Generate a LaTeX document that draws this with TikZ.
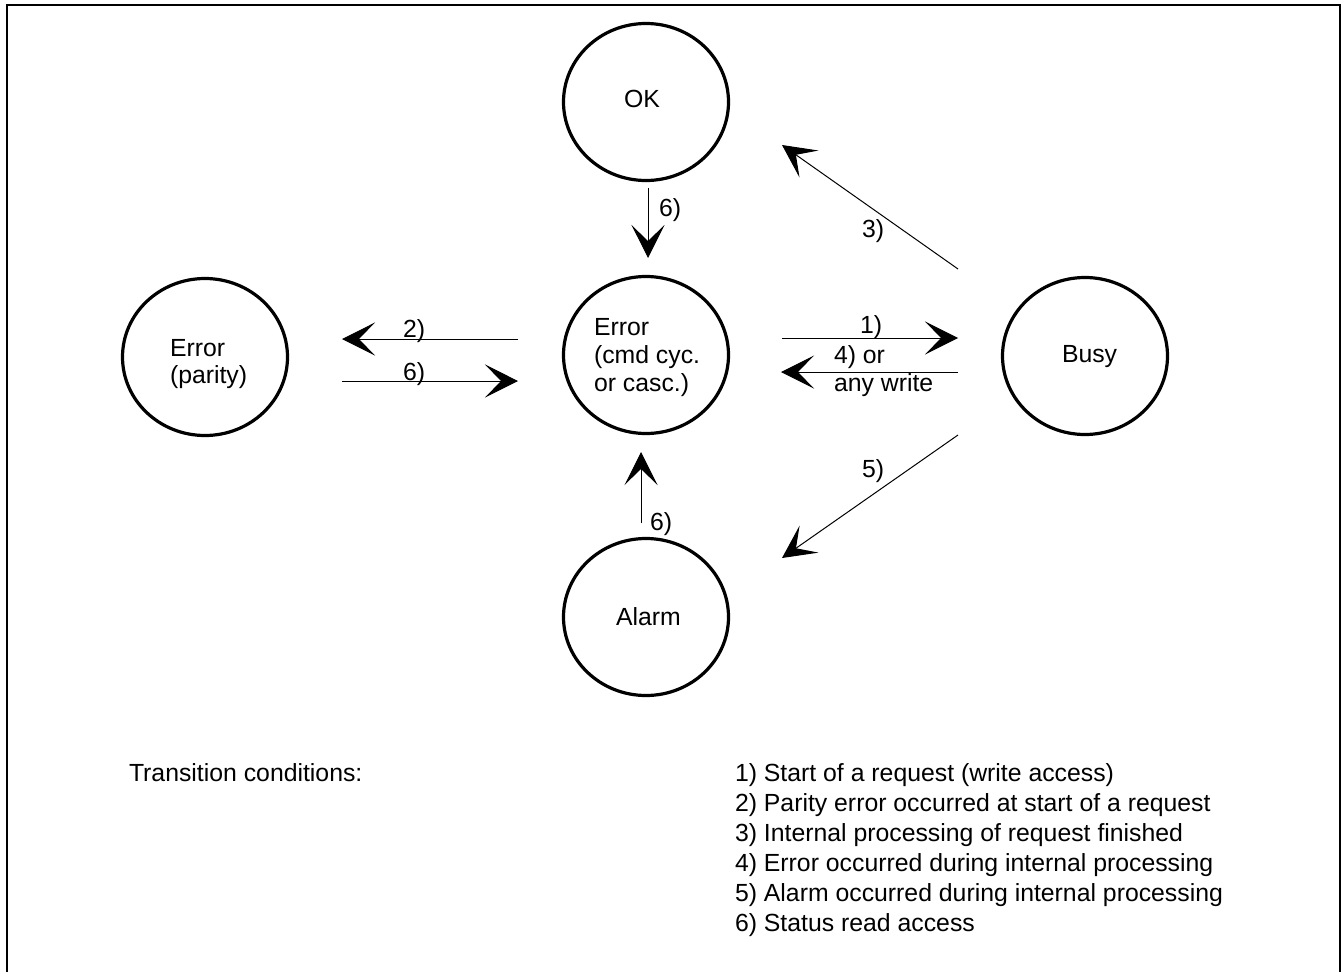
\documentclass[tikz,border=0pt]{standalone}
\usepackage{fontspec}
\setmainfont{Liberation Sans}
\usetikzlibrary{arrows.meta,shapes.geometric}
\begin{document}
\begin{tikzpicture}[x=1pt,y=-1pt,
  every node/.style={font=\fontsize{24.8}{30}\selectfont, inner sep=0pt, outer sep=0pt},
  state/.style={ellipse, draw, line width=3.2pt, minimum width=165pt, minimum height=157pt},
  txt/.style={anchor=base west},
  arr/.style={line width=1pt, -{Stealth[length=33pt,width=33pt,inset=16pt]}},
  frameline/.style={line width=2pt}]
\useasboundingbox (0,0) rectangle (1344,972);
% frame (open at bottom)
\coordinate (fbl) at (7,972);
\coordinate (ftl) at (7,5);
\coordinate (ftr) at (1339.5,5);
\coordinate (fbr) at (1339.5,972);
\draw[frameline] (fbl) -- (ftl) -- (ftr) -- (fbr);

% states
\node[state] (ok) at (646,102) {};
\node[state] (err) at (646,355) {};
\node[state] (par) at (205,357) {};
\node[state] (busy) at (1085,356) {};
\node[state] (alarm) at (646,617) {};

% state texts
\node[txt] (tok) at (624,107) {OK};
\node[txt] (terr1) at (594,335) {Error};
\node[txt] (terr2) at (594,363) {(cmd cyc.};
\node[txt] (terr3) at (594,391) {or casc.)};
\node[txt] (tpar1) at (170,356) {Error};
\node[txt] (tpar2) at (170,383) {(parity)};
\node[txt] (tbusy) at (1062,362) {Busy};
\node[txt] (talarm) at (616,625) {Alarm};

% connector end points
\coordinate (a6s) at (648,188);
\coordinate (a6e) at (648,258);
\coordinate (a3s) at (958,269);
\coordinate (a3e) at (782,145);
\coordinate (a2s) at (518,339);
\coordinate (a2e) at (342,339);
\coordinate (b6s) at (342,381);
\coordinate (b6e) at (518,381);
\coordinate (a1s) at (782,338);
\coordinate (a1e) at (958,338);
\coordinate (a4s) at (958,372);
\coordinate (a4e) at (781,372);
\coordinate (a5s) at (958,435);
\coordinate (a5e) at (782,558);
\coordinate (c6s) at (641,523);
\coordinate (c6e) at (641,452);

% connectors
\draw[arr] (a6s) -- (a6e);
\draw[arr] (a3s) -- (a3e);
\draw[arr] (a2s) -- (a2e);
\draw[arr] (b6s) -- (b6e);
\draw[arr] (a1s) -- (a1e);
\draw[arr] (a4s) -- (a4e);
\draw[arr] (a5s) -- (a5e);
\draw[arr] (c6s) -- (c6e);

% connector labels
\node[txt] (l6a) at (659,216) {6)};
\node[txt] (l3) at (862,237) {3)};
\node[txt] (l2) at (403,337) {2)};
\node[txt] (l6b) at (403,380) {6)};
\node[txt] (l1) at (860,333) {1)};
\node[txt] (l4a) at (834,363) {4) or};
\node[txt] (l4b) at (834,391) {any write};
\node[txt] (l5) at (862,477) {5)};
\node[txt] (l6c) at (650,530) {6)};

% legend
\node[txt] (tc) at (129,781) {Transition conditions:};
\node[txt] (c1) at (735,781) {1) Start of a request (write access)};
\node[txt] (c2) at (735,811) {2) Parity error occurred at start of a request};
\node[txt] (c3) at (735,841) {3) Internal processing of request finished};
\node[txt] (c4) at (735,871) {4) Error occurred during internal processing};
\node[txt] (c5) at (735,901) {5) Alarm occurred during internal processing};
\node[txt] (c6) at (735,931) {6) Status read access};
\end{tikzpicture}
\end{document}
